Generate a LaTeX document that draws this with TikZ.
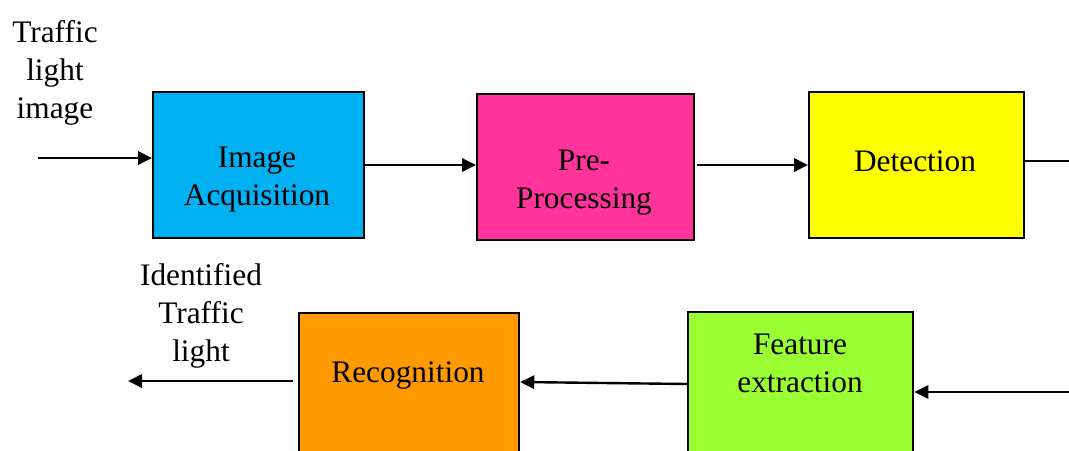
\documentclass[tikz,border=0pt]{standalone}
\usepackage{fontspec}
\setmainfont{Liberation Serif}
\usetikzlibrary{arrows.meta}
\definecolor{cIA}{HTML}{00B0F0}
\definecolor{cPP}{HTML}{FF3399}
\definecolor{cDet}{HTML}{FFFF00}
\definecolor{cRec}{HTML}{FF9900}
\definecolor{cFE}{HTML}{99FF33}
\begin{document}
\begin{tikzpicture}[x=0.75pt,y=-0.75pt,
  box/.style={draw=black,line width=1.7pt,inner sep=0pt,anchor=north west},
  txt/.style={font=\fontsize{23.5}{28.5}\selectfont,align=center,inner sep=0pt},
  arr/.style={line width=1.8pt,-{Triangle[length=10.5pt,width=10pt]}},
  ln/.style={line width=1.8pt}]
\useasboundingbox (0,0) rectangle (1069,450);
\begin{scope}
\clip (0,0) rectangle (1069,450);
\node[box,fill=cIA,minimum width=158.25pt,minimum height=109.5pt] (IA) at (152,91) {};
\node[box,fill=cPP,minimum width=162.75pt,minimum height=109.5pt] (PP) at (476,93) {};
\node[box,fill=cDet,minimum width=161.25pt,minimum height=109.5pt] (Det) at (808,91) {};
\node[box,fill=cRec,minimum width=165pt,minimum height=135pt] (Rec) at (298,312) {};
\node[box,fill=cFE,minimum width=168.75pt,minimum height=135pt] (FE) at (687,311) {};
\end{scope}
\node[txt] (tIA) at (257,180) {Image\\Acquisition};
\node[txt] (tPP) at (584,183) {Pre-\\Processing};
\node[txt] (tDet) at (915,161) {Detection};
\node[txt] (tRec) at (408,376) {Recognition};
\node[txt] (tFE) at (800,363) {Feature\\extraction};
\node[txt] (tin) at (55,73) {Traffic\\light\\image};
\node[txt] (tout) at (201,316) {Identified\\Traffic\\light};
\coordinate (in) at (38,158);
\coordinate (out) at (128,381);
\coordinate (detR) at (1069,161);
\coordinate (feR) at (1069,392);
\draw[arr] (in) -- (in -| IA.west);
\draw[arr] (IA.east |- 0,165) -- (PP.west |- 0,165);
\draw[arr] (697,165) -- (Det.west |- 0,165);
\draw[ln] (Det.east |- detR) -- (detR);
\draw[arr] (feR) -- (feR -| FE.east);
\draw[arr] (FE.west |- 0,384) -- (Rec.east |- 0,382);
\draw[arr] (293,381) -- (out);
\end{tikzpicture}
\end{document}
